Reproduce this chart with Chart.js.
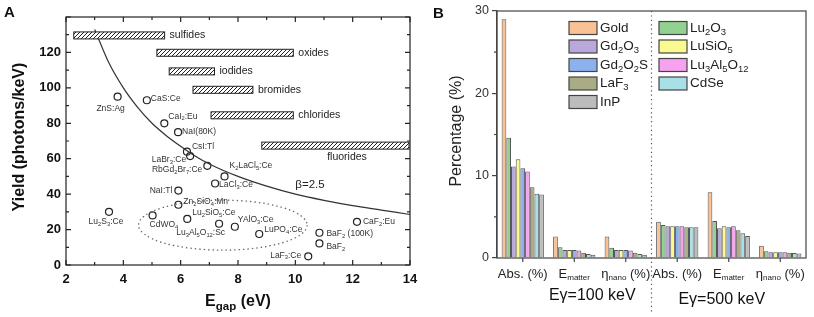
<!DOCTYPE html>
<html lang="en">
<head>
<meta charset="UTF-8">
<title>Scintillator light yield and nanoparticle energy deposition</title>
<script src="https://cdn.jsdelivr.net/npm/chart.js@4.4.0/dist/chart.umd.min.js"></script>
<style>
  html, body { margin: 0; padding: 0; background: #fff; }
  #wrap { position: relative; width: 814px; height: 317px; }
  #chartA { position: absolute; left: 0; top: 0; }
  #chartB { position: absolute; left: 425px; top: 0; }
</style>
</head>
<body>
<div id="wrap">
  <canvas id="chartA" width="425" height="317"></canvas>
  <canvas id="chartB" width="389" height="317"></canvas>
</div>
<script>
  const FONT = "'Liberation Sans', Arial, sans-serif";

  // ---------- panel A data ----------
  const crystalNames = ['ZnS:Ag', 'CaS:Ce', 'CaI_2:Eu', 'NaI(80K)', 'CsI:Tl', 'LaBr_3:Ce', 'RbGd_2Br_7:Ce',
    'K_2LaCl_5:Ce', 'LaCl_3:Ce', 'NaI:Tl', 'Zn_2SiO_4:Mn', 'Lu_2S_3:Ce', 'CdWO_4', 'Lu_2SiO_5:Ce',
    'Lu_3Al_5O_{12}:Sc', 'YAlO_3:Ce', 'LuPO_4:Ce', 'CaF_2:Eu', 'BaF_2 (100K)', 'BaF_2', 'LaF_3:Ce'];
  const crystalGap = [3.8, 4.82, 5.43, 5.91, 6.22, 6.33, 6.93, 7.53, 7.2, 5.92, 5.92, 3.5, 5.02, 6.23,
    7.34, 7.89, 8.74, 12.15, 10.84, 10.84, 10.45];
  const crystalYield = [95, 93, 80, 75, 64, 61.5, 56, 50, 46, 42, 34, 30, 28, 26,
    23.3, 21.6, 17.5, 24.4, 18.2, 12.2, 4.9];
  // label placement relative to each point: [dx, dy, align]
  const crystalLabelPos = [[-7, 12, 'c'], [4, -2, 'l'], [4, -7, 'l'], [4, 0, 'l'], [5, -5, 'l'], [-4, 4, 'r'],
    [-5, 4, 'r'], [5, -11, 'l'], [4, 1, 'l'], [-6, 0, 'r'], [5, -3, 'l'], [-3, 10, 'c'], [-3, 9, 'l'],
    [5, -6, 'l'], [6, 9, 'r'], [3, -7, 'l'], [5, -4, 'l'], [6, 0, 'l'], [7, 1, 'l'], [7, 3, 'l'], [-7, -1, 'r']];

  const bandNames = ['sulfides', 'oxides', 'iodides', 'bromides', 'chlorides', 'fluorides'];
  const bandFrom = [2.27, 5.17, 5.6, 6.43, 7.06, 8.83];
  const bandTo = [5.44, 9.93, 7.18, 8.52, 9.93, 14];
  const bandYield = [129.6, 119.8, 109.3, 98.9, 84.5, 67.4];

  // beta = 2.5 limit
  const curveGap = [3.0, 3.5, 4, 4.5, 5, 5.5, 6, 6.5, 7, 8, 9, 10, 11, 12, 13, 14];
  const curveYield = [133, 114, 100, 89, 80, 73, 67, 61.5, 57, 50, 44.5, 40, 36.5, 33.5, 31, 28.5];

  // ---------- panel B data ----------
  const categories = ['Abs. (%)', 'E_{matter}', 'η_{nano} (%)', 'Abs. (%)', 'E_{matter}', 'η_{nano} (%)'];
  const materials = ['Gold', 'Lu_2O_3', 'Gd_2O_3', 'LuSiO_5', 'Gd_2O_2S', 'Lu_3Al_5O_{12}', 'LaF_3', 'CdSe', 'InP'];
  const gold      = [29.0, 2.6, 2.6, 4.4, 8.0, 1.5];
  const lu2o3     = [14.6, 1.3, 1.25, 4.0, 4.5, 0.82];
  const gd2o3     = [11.1, 0.97, 0.97, 3.85, 3.6, 0.7];
  const lusio5    = [12.0, 0.97, 0.97, 3.85, 3.85, 0.7];
  const gd2o2s    = [10.9, 0.97, 0.97, 3.85, 3.72, 0.7];
  const lu3al5o12 = [10.5, 0.9, 0.9, 3.85, 3.85, 0.7];
  const laf3      = [8.6, 0.65, 0.65, 3.72, 3.37, 0.65];
  const cdse      = [7.8, 0.5, 0.5, 3.72, 3.0, 0.6];
  const inp       = [7.7, 0.4, 0.4, 3.72, 2.67, 0.55];
  const seriesB = [gold, lu2o3, gd2o3, lusio5, gd2o2s, lu3al5o12, laf3, cdse, inp];
  const colorsB = ['#f9c194', '#92d192', '#b9a8da', '#fafa90', '#8db1ef', '#f6a2f0', '#a9ac84', '#a9dfe6', '#bcbcbc'];

  // ---------- helpers ----------
  function richParts(str) {
    const parts = [];
    let buf = '';
    for (let i = 0; i < str.length; i++) {
      const c = str[i];
      if (c === '_') {
        if (buf) { parts.push({ t: buf, sub: false }); buf = ''; }
        let s;
        if (str[i + 1] === '{') { const j = str.indexOf('}', i); s = str.slice(i + 2, j); i = j; }
        else { s = str[i + 1]; i++; }
        parts.push({ t: s, sub: true });
      } else buf += c;
    }
    if (buf) parts.push({ t: buf, sub: false });
    return parts;
  }

  function drawRich(ctx, str, x, y, size, align, color, weight, subScale) {
    const parts = richParts(str);
    const sub = size * (subScale || 0.68);
    const f = sz => (weight || 'normal') + ' ' + sz + 'px ' + FONT;
    let w = 0;
    parts.forEach(p => { ctx.font = f(p.sub ? sub : size); p.w = ctx.measureText(p.t).width; w += p.w; });
    let cx = align === 'r' ? x - w : align === 'c' ? x - w / 2 : x;
    ctx.save();
    ctx.textBaseline = 'middle';
    ctx.textAlign = 'left';
    ctx.fillStyle = color;
    parts.forEach(p => {
      ctx.font = f(p.sub ? sub : size);
      ctx.fillText(p.t, cx, p.sub ? y + size * 0.3 : y);
      cx += p.w;
    });
    ctx.restore();
  }

  function hatchPattern(ctx) {
    const c = document.createElement('canvas');
    c.width = 4; c.height = 4;
    const g = c.getContext('2d');
    g.strokeStyle = '#222';
    g.lineWidth = 1;
    g.beginPath();
    g.moveTo(0, 4); g.lineTo(4, 0);
    g.moveTo(-1, 1); g.lineTo(1, -1);
    g.moveTo(3, 5); g.lineTo(5, 3);
    g.stroke();
    return ctx.createPattern(c, 'repeat');
  }

  // ---------- panel A ----------
  const panelADecor = {
    id: 'panelADecor',
    afterDraw(chart) {
      const ctx = chart.ctx;
      const a = chart.chartArea;
      const xs = chart.scales.x, ys = chart.scales.y;
      ctx.save();

      // frame and inward ticks
      ctx.strokeStyle = '#222';
      ctx.lineWidth = 1.2;
      ctx.strokeRect(a.left, a.top, a.right - a.left, a.bottom - a.top);
      ctx.beginPath();
      for (let v = 2; v <= 14; v += 1) {
        const px = xs.getPixelForValue(v), len = v % 2 === 0 ? 5 : 3;
        ctx.moveTo(px, a.bottom); ctx.lineTo(px, a.bottom - len);
        ctx.moveTo(px, a.top); ctx.lineTo(px, a.top + len);
      }
      for (let v = 0; v <= 140; v += 10) {
        const py = ys.getPixelForValue(v), len = v % 20 === 0 ? 5 : 3;
        ctx.moveTo(a.left, py); ctx.lineTo(a.left + len, py);
        ctx.moveTo(a.right, py); ctx.lineTo(a.right - len, py);
      }
      ctx.stroke();

      // hatched bands
      const pat = hatchPattern(ctx);
      bandNames.forEach((name, i) => {
        const x1 = xs.getPixelForValue(bandFrom[i]);
        const x2 = Math.min(xs.getPixelForValue(bandTo[i]), a.right - 1);
        const yc = ys.getPixelForValue(bandYield[i]);
        ctx.fillStyle = '#fff';
        ctx.fillRect(x1, yc - 3.5, x2 - x1, 7);
        ctx.fillStyle = pat;
        ctx.fillRect(x1, yc - 3.5, x2 - x1, 7);
        ctx.lineWidth = 1;
        ctx.strokeStyle = '#222';
        ctx.strokeRect(x1, yc - 3.5, x2 - x1, 7);
        if (i === bandNames.length - 1) {
          drawRich(ctx, name, 347, yc + 12, 10.5, 'c', '#222');
        } else {
          drawRich(ctx, name, x2 + 5, yc, 10.5, 'l', '#222');
        }
      });

      // dotted ellipse around the oxide group
      const ex = xs.getPixelForValue(7.47), ey = ys.getPixelForValue(22.5);
      const rx = xs.getPixelForValue(7.47 + 2.94) - ex;
      const ry = ey - ys.getPixelForValue(22.5 + 14.1);
      ctx.beginPath();
      ctx.setLineDash([1.4, 3]);
      ctx.strokeStyle = '#666';
      ctx.lineWidth = 1.3;
      ctx.ellipse(ex, ey, rx, ry, 0, 0, Math.PI * 2);
      ctx.stroke();
      ctx.setLineDash([]);

      // point labels
      crystalNames.forEach((name, i) => {
        const px = xs.getPixelForValue(crystalGap[i]);
        const py = ys.getPixelForValue(crystalYield[i]);
        const p = crystalLabelPos[i];
        drawRich(ctx, name, px + p[0], py + p[1], 8.5, p[2], '#333');
      });

      drawRich(ctx, 'β=2.5', xs.getPixelForValue(10.0), ys.getPixelForValue(45), 11.5, 'l', '#222');

      // axis titles
      drawRich(ctx, 'E_{gap} (eV)', (a.left + a.right) / 2, 302, 16, 'c', '#111', 'bold', 0.72);
      ctx.save();
      ctx.translate(20, 137);
      ctx.rotate(-Math.PI / 2);
      drawRich(ctx, 'Yield (photons/keV)', 0, 0, 16, 'c', '#111', 'bold');
      ctx.restore();

      drawRich(ctx, 'A', 4, 13, 15, 'l', '#111', 'bold');
      ctx.restore();
    }
  };

  const crystalPoints = crystalGap.map((g, i) => ({ x: g, y: crystalYield[i] }));
  const curvePoints = curveGap.map((g, i) => ({ x: g, y: curveYield[i] }));

  new Chart(document.getElementById('chartA'), {
    type: 'scatter',
    data: {
      datasets: [
        {
          type: 'line',
          data: curvePoints,
          borderColor: '#333',
          borderWidth: 1.2,
          pointRadius: 0,
          cubicInterpolationMode: 'monotone',
          fill: false
        },
        {
          data: crystalPoints,
          pointRadius: 3.5,
          pointBorderColor: '#222',
          pointBackgroundColor: 'rgba(255,255,255,0)',
          pointBorderWidth: 1.2
        }
      ]
    },
    options: {
      responsive: false,
      animation: false,
      layout: { padding: { left: 0, top: 17, right: 15, bottom: 0 } },
      plugins: { legend: { display: false }, tooltip: { enabled: false } },
      scales: {
        x: {
          type: 'linear', min: 2, max: 14,
          ticks: { stepSize: 2, color: '#111', padding: 7, font: { family: FONT, size: 13, weight: 'bold' } },
          grid: { display: false, drawTicks: false },
          border: { display: false },
          afterFit(s) { s.height = 52; }
        },
        y: {
          min: 0, max: 140,
          ticks: {
            stepSize: 20, color: '#111', padding: 5, font: { family: FONT, size: 13, weight: 'bold' },
            callback: v => (v === 140 ? '' : v)
          },
          grid: { display: false, drawTicks: false },
          border: { display: false },
          afterFit(s) { s.width = 66; }
        }
      }
    },
    plugins: [panelADecor]
  });

  // ---------- panel B ----------
  const panelBDecor = {
    id: 'panelBDecor',
    afterDraw(chart) {
      const ctx = chart.ctx;
      const a = chart.chartArea;
      const xs = chart.scales.x, ys = chart.scales.y;
      ctx.save();

      ctx.strokeStyle = '#444';
      ctx.lineWidth = 1.2;
      ctx.strokeRect(a.left, a.top, a.right - a.left, a.bottom - a.top);

      // minor y ticks and category ticks
      ctx.beginPath();
      [5, 15, 25].forEach(v => {
        const py = ys.getPixelForValue(v);
        ctx.moveTo(a.left, py); ctx.lineTo(a.left - 3, py);
      });
      categories.forEach((c, i) => {
        const px = xs.getPixelForValue(i);
        ctx.moveTo(px, a.bottom); ctx.lineTo(px, a.bottom + 4);
      });
      ctx.stroke();

      // dotted divider between the two energies
      const dx = (xs.getPixelForValue(2) + xs.getPixelForValue(3)) / 2;
      ctx.beginPath();
      ctx.setLineDash([1.2, 3.2]);
      ctx.strokeStyle = '#555';
      ctx.lineWidth = 1.2;
      ctx.moveTo(dx, a.top); ctx.lineTo(dx, 312);
      ctx.stroke();
      ctx.setLineDash([]);

      // category labels
      categories.forEach((c, i) => {
        drawRich(ctx, c, xs.getPixelForValue(i), 274, 13, 'c', '#222', 'normal', 0.62);
      });
      drawRich(ctx, 'Eγ=100 keV', (xs.getPixelForValue(0) + xs.getPixelForValue(2)) / 2 + 18, 296, 16, 'c', '#111');
      drawRich(ctx, 'Eγ=500 keV', (xs.getPixelForValue(3) + xs.getPixelForValue(5)) / 2 - 7, 300, 16, 'c', '#111');

      // legend in two columns
      materials.forEach((m, i) => {
        const col = i % 2, row = Math.floor(i / 2);
        const bx = col === 0 ? 144 : 234;
        const cy = 28 + row * 18.5;
        ctx.fillStyle = colorsB[i];
        ctx.fillRect(bx, cy - 6.5, 28, 13);
        ctx.strokeStyle = '#444';
        ctx.lineWidth = 1.2;
        ctx.strokeRect(bx, cy - 6.5, 28, 13);
        drawRich(ctx, m, bx + 31, cy, 13.5, 'l', '#222', 'normal', 0.7);
      });

      // axis title and panel letter
      ctx.save();
      ctx.translate(32, 131);
      ctx.rotate(-Math.PI / 2);
      drawRich(ctx, 'Percentage (%)', 0, 0, 16, 'c', '#222');
      ctx.restore();
      drawRich(ctx, 'B', 8, 14, 15, 'l', '#111', 'bold');
      ctx.restore();
    }
  };

  new Chart(document.getElementById('chartB'), {
    type: 'bar',
    data: {
      labels: categories,
      datasets: materials.map((m, i) => ({
        label: m,
        data: seriesB[i],
        backgroundColor: colorsB[i],
        borderColor: '#555',
        borderWidth: 1
      }))
    },
    options: {
      responsive: false,
      animation: false,
      layout: { padding: { left: 0, top: 11, right: 8, bottom: 0 } },
      datasets: { bar: { barPercentage: 1, categoryPercentage: 0.82 } },
      plugins: { legend: { display: false }, tooltip: { enabled: false } },
      scales: {
        x: {
          ticks: { display: false },
          grid: { display: false },
          border: { display: false },
          afterFit(s) { s.height = 59; }
        },
        y: {
          min: 0, max: 30,
          ticks: { stepSize: 10, color: '#333', padding: 3, font: { family: FONT, size: 12.5 } },
          grid: { drawOnChartArea: false, tickLength: 5, color: '#444', lineWidth: 1.2 },
          border: { display: true, color: '#444', width: 1.2 },
          afterFit(s) { s.width = 72; }
        }
      }
    },
    plugins: [panelBDecor]
  });
</script>
</body>
</html>
